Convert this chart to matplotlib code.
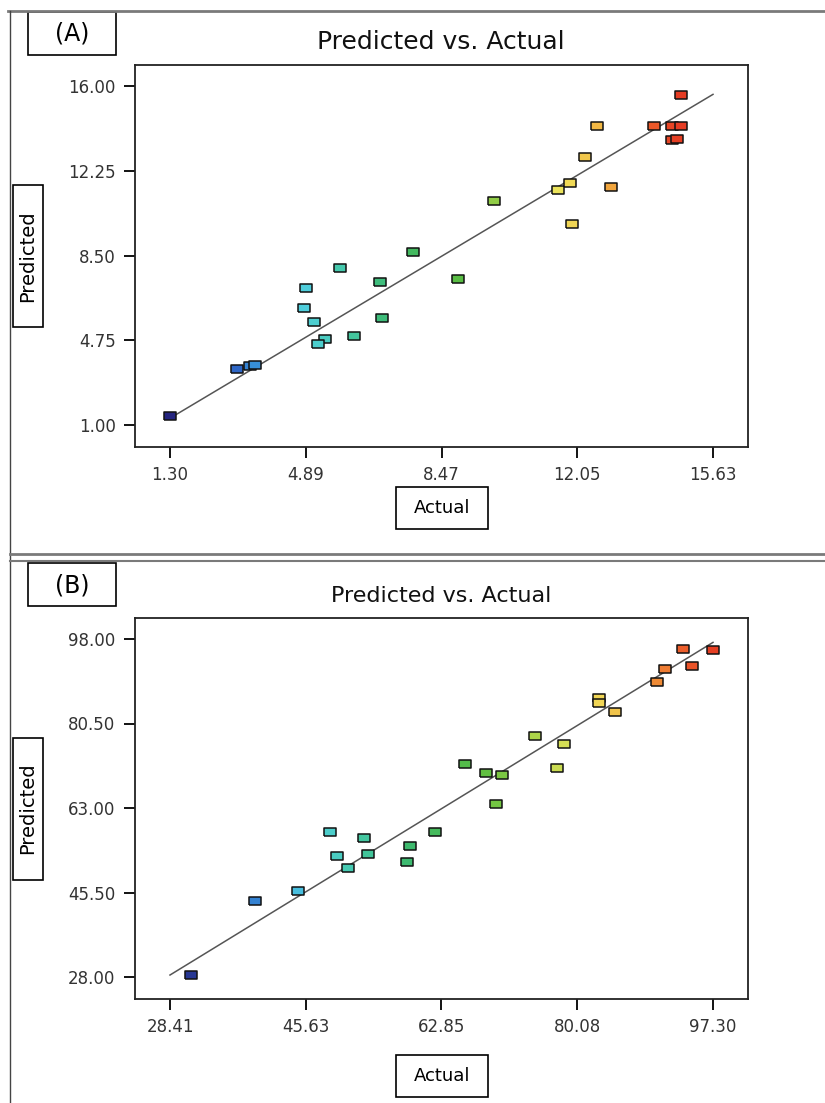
import numpy as np
import matplotlib
matplotlib.use("Agg")
import matplotlib.pyplot as plt
from matplotlib.colors import LinearSegmentedColormap
from matplotlib.lines import Line2D
from matplotlib.patches import Rectangle

# Panel A data (Actual vs Predicted)
actual_a = [1.30, 3.07, 3.40, 3.55, 4.88, 4.83, 5.11, 5.40, 5.21, 5.79, 6.15, 6.85, 6.90, 7.71,
            8.90, 9.86, 11.53, 11.85, 11.92, 12.25, 12.57, 12.94, 14.08, 14.56, 14.78, 14.78,
            14.56, 14.68]
pred_a = [1.40, 3.46, 3.60, 3.65, 7.05, 6.19, 5.54, 4.79, 4.57, 7.95, 4.95, 7.34, 5.72, 8.67,
          7.47, 10.89, 11.41, 11.73, 9.91, 12.87, 14.24, 11.53, 14.24, 14.24, 14.24, 15.61,
          13.60, 13.65]
xticks_a = [1.30, 4.89, 8.47, 12.05, 15.63]
yticks_a = [1.00, 4.75, 8.50, 12.25, 16.00]

# Panel B data
actual_b = [31.13, 39.25, 44.69, 48.69, 49.58, 50.94, 53.05, 53.57, 58.50, 58.83, 62.03, 65.82,
            68.45, 70.47, 69.82, 74.69, 78.45, 77.51, 82.83, 82.83, 84.93, 90.15, 91.18, 93.52,
            94.69, 97.28]
pred_b = [28.42, 43.64, 45.72, 58.06, 53.07, 50.50, 56.73, 53.55, 51.74, 55.15, 58.06, 72.18,
          70.31, 69.82, 63.87, 78.00, 76.34, 71.21, 85.69, 84.71, 82.78, 89.13, 91.83, 95.93,
          92.33, 95.72]
xticks_b = [28.41, 45.63, 62.85, 80.08, 97.30]
yticks_b = [28.00, 45.50, 63.00, 80.50, 98.00]

W, H = 825, 1103

# design-expert style rainbow
cmap = LinearSegmentedColormap.from_list("de", [
    (0.0, '#24247e'), (0.12, '#2e64c4'), (0.17, '#3aa0e0'), (0.25, '#50d0dc'),
    (0.32, '#44c8a8'), (0.42, '#3cb868'), (0.54, '#5cbe40'), (0.62, '#a8d448'),
    (0.72, '#f0e45c'), (0.80, '#f2b040'), (0.89, '#ec5a2a'), (1.0, '#dc1a1a')])

plt.rcParams['font.family'] = 'DejaVu Sans'

fig = plt.figure(figsize=(W / 100, H / 100), dpi=100)

# rectangle marker, a bit wider than tall
box_marker = [(-1, -0.68), (1, -0.68), (1, 0.68), (-1, 0.68), (-1, -0.68)]


def px_rect(x0, y0, x1, y1):
    # pixel box (top-left origin) -> figure fraction rectangle
    return Rectangle((x0 / W, 1 - y1 / H), (x1 - x0) / W, (y1 - y0) / H,
                     transform=fig.transFigure, fill=False, ec='black', lw=1.2)


def panel(top, bottom, actual, pred, xticks, yticks, label, label_top, title_size,
          actual_top, crange):
    ax = fig.add_axes([135 / W, 1 - bottom / H, 613 / W, (bottom - top) / H])
    dx = (xticks[-1] - xticks[0]) / (713 - 170)
    ax.set_xlim(xticks[0] - 35 * dx, xticks[-1] + 35 * dx)
    ypx = (top + 21, bottom - 22)
    dy = (yticks[-1] - yticks[0]) / (ypx[1] - ypx[0])
    ax.set_ylim(yticks[0] - 22 * dy, yticks[-1] + 21 * dy)

    ax.plot([xticks[0], xticks[-1]], [xticks[0], xticks[-1]], color='#555555', lw=1.1, zorder=2)
    norm = plt.Normalize(*crange)
    for xa, yp in zip(actual, pred):
        ax.plot(xa, yp, marker=box_marker, ms=8.5, mfc=cmap(norm(xa)), mec='#111111',
                mew=1.1, ls='none', zorder=3)

    ax.set_xticks(xticks)
    ax.set_xticklabels([f"{v:.2f}" for v in xticks])
    ax.set_yticks(yticks)
    ax.set_yticklabels([f"{v:.2f}" for v in yticks])
    ax.tick_params(direction='out', length=8, width=1.3, labelsize=12,
                   labelcolor='#333333', pad=6)
    for s in ax.spines.values():
        s.set_linewidth(1.3)
        s.set_color('#222222')

    fig.text(441 / W, 1 - (top - 16) / H, "Predicted vs. Actual", ha='center', va='baseline',
             fontsize=title_size, color='#111111')

    # panel label box
    fig.add_artist(px_rect(28, label_top, 116, label_top + 43))
    fig.text(72 / W, 1 - (label_top + 22) / H, label, ha='center', va='center', fontsize=17)

    # axis title boxes
    fig.add_artist(px_rect(396, actual_top, 488, actual_top + 42))
    fig.text(442 / W, 1 - (actual_top + 21) / H, "Actual", ha='center', va='center',
             fontsize=13)
    mid = (top + bottom) / 2
    fig.add_artist(px_rect(13, mid - 71, 43, mid + 71))
    fig.text(28 / W, 1 - mid / H, "Predicted", ha='center', va='center', rotation=90,
             fontsize=14)
    return ax


panel(65, 447, actual_a, pred_a, xticks_a, yticks_a, "(A)", 12, 18, 487, (1.30, 15.63))
panel(618, 999, actual_b, pred_b, xticks_b, yticks_b, "(B)", 563, 16, 1055, (28.41, 102.0))

# frame lines of the original screenshot
fig.add_artist(Line2D([8 / W, 1], [1 - 11 / H, 1 - 11 / H], transform=fig.transFigure,
                      color='#7a7a7a', lw=2))
fig.add_artist(Line2D([10 / W, 10 / W], [0, 1 - 11 / H], transform=fig.transFigure,
                      color='#444444', lw=1))
for yy, lw in [(554, 2), (561, 1.5)]:
    fig.add_artist(Line2D([10 / W, 1], [1 - yy / H, 1 - yy / H], transform=fig.transFigure,
                          color='#7a7a7a', lw=lw))

fig.savefig("out.png", dpi=100)
